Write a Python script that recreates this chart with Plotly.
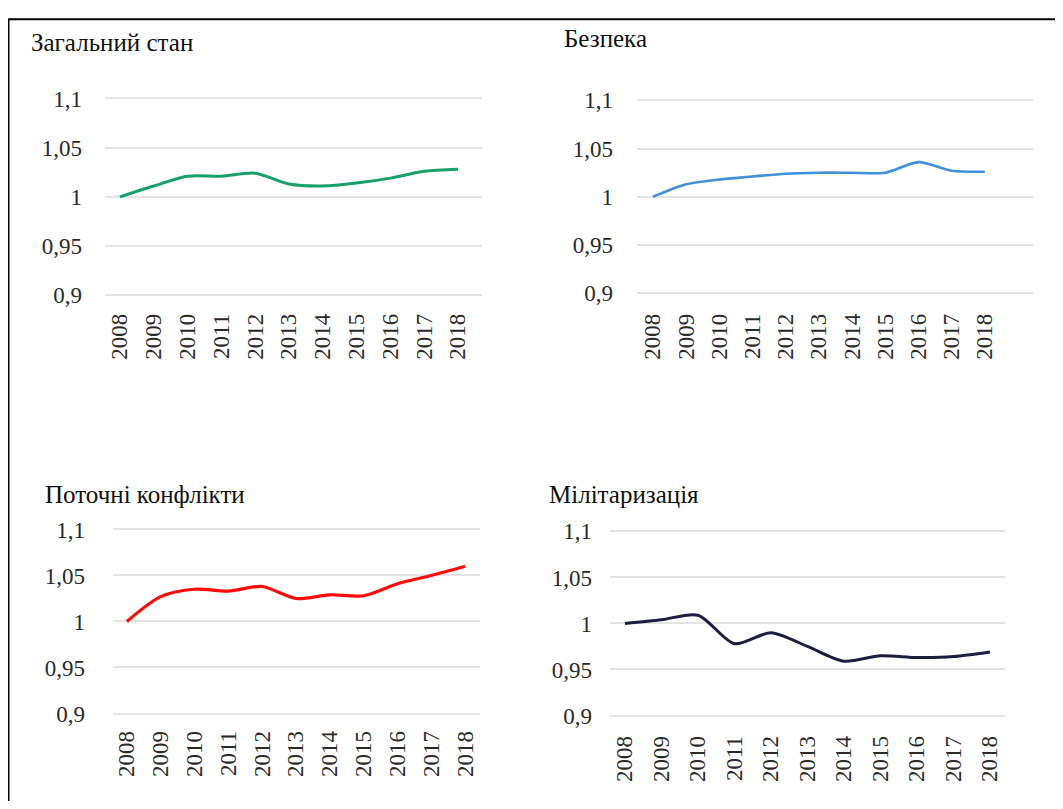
import plotly.graph_objects as go

years = ["2008", "2009", "2010", "2011", "2012", "2013", "2014", "2015", "2016", "2017", "2018"]

general_state = [1.000, 1.011, 1.021, 1.021, 1.024, 1.013, 1.011, 1.014, 1.019, 1.026, 1.028]
security = [1.000, 1.013, 1.018, 1.021, 1.024, 1.025, 1.025, 1.025, 1.036, 1.027, 1.026]
conflicts = [1.000, 1.027, 1.035, 1.033, 1.038, 1.025, 1.029, 1.028, 1.041, 1.050, 1.060]
militarization = [1.000, 1.004, 1.009, 0.978, 0.990, 0.975, 0.959, 0.965, 0.963, 0.964, 0.969]

titles = ["Загальний стан", "Безпека", "Поточні конфлікти", "Мілітаризація"]
y_tickvals = [0.9, 0.95, 1.0, 1.05, 1.1]
y_ticktext = ["0,9", "0,95", "1", "1,05", "1,1"]

# figure size and mapping from target window pixels to figure pixels
W, H = 1047, 793
OX, OY, SY = 8, 16, 0.98


def fx(px):
    return (px - OX) / W


def fy(py):
    return 1 - ((py - OY) / SY) / H


series = [general_state, security, conflicts, militarization]
colors = ["#17a06a", "#4290d8", "#ff0a0a", "#1d1d3f"]
widths = [3, 2.6, 3.2, 3]
# target window-pixel geometry of each panel (plot area)
px_x = [(105, 482), (637, 1033), (113, 480), (610, 1005)]
px_y = [(95, 297), (97, 295), (529, 718), (531, 720)]
x_ranges = [[-0.44, 10.71], [-0.48, 11.45], [-0.41, 10.44], [-0.41, 10.41]]
y_stand = [22, 23, 27, 17]
x_stand = [11, 13, 10, 13]

fig = go.Figure()
layout = {}
for i in range(4):
    n = "" if i == 0 else str(i + 1)
    fig.add_trace(go.Scatter(
        x=years, y=series[i], mode="lines",
        line=dict(color=colors[i], width=widths[i], shape="spline", smoothing=0.8),
        xaxis="x" + n, yaxis="y" + n, showlegend=False,
    ))
    x0, x1 = px_x[i]
    yt, yb = px_y[i]
    layout["xaxis" + n] = dict(
        type="category", domain=[fx(x0), fx(x1)], range=x_ranges[i],
        anchor="y" + n, showgrid=False, zeroline=False, showline=False,
        tickangle=-90, ticks="", ticklabelstandoff=x_stand[i],
        tickfont=dict(family="Liberation Serif", size=23, color="#2a2a2a"),
        fixedrange=True,
    )
    layout["yaxis" + n] = dict(
        domain=[fy(yb), fy(yt)], range=[0.898, 1.102],
        anchor="x" + n, tickvals=y_tickvals, ticktext=y_ticktext,
        showgrid=True, gridcolor="#e4e4e4", gridwidth=2,
        zeroline=False, showline=False, ticks="", ticklabelstandoff=y_stand[i],
        tickfont=dict(family="Liberation Serif", size=23, color="#2a2a2a"),
        fixedrange=True,
    )

title_pos = [(29, 41), (562, 37), (43, 496), (547, 496)]
annotations = []
for t, (tx, ty) in zip(titles, title_pos):
    annotations.append(dict(
        text=t, x=fx(tx), y=fy(ty), xref="paper", yref="paper",
        xanchor="left", yanchor="middle", showarrow=False,
        font=dict(family="Liberation Serif", size=25, color="#111111"),
    ))

top_y = 1 - 1.2 / H
shapes = [
    dict(type="line", xref="paper", yref="paper", x0=fx(8.5), x1=fx(8.5),
         y0=top_y, y1=-0.05, line=dict(color="black", width=2)),
    dict(type="line", xref="paper", yref="paper", x0=fx(8), x1=1.05,
         y0=top_y, y1=top_y, line=dict(color="black", width=2)),
]

fig.update_layout(
    width=W, height=H, margin=dict(l=0, r=0, t=0, b=0),
    paper_bgcolor="white", plot_bgcolor="white",
    annotations=annotations, shapes=shapes, **layout,
)

fig.write_html("out.html")
